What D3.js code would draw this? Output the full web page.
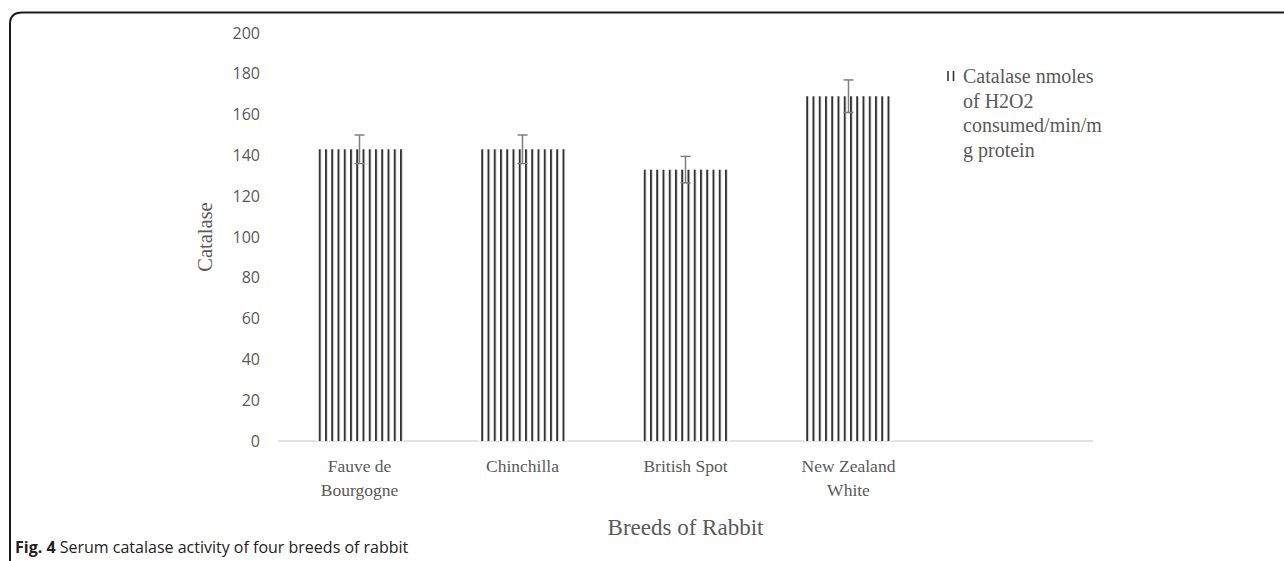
<!DOCTYPE html>
<html><head><meta charset="utf-8">
<script src="https://cdn.jsdelivr.net/npm/d3@7"></script>
<style>html,body{margin:0;padding:0;background:#fff;} svg{display:block;}</style>
</head><body>
<svg id="chart" width="1284" height="561"></svg>
<script>
const categories = [["Fauve de","Bourgogne"],["Chinchilla"],["British Spot"],["New Zealand","White"]];
const values = [143, 143, 133, 169];
const errors = [7, 7, 6.5, 8];
const yTicks = [0,20,40,60,80,100,120,140,160,180,200];
const legendLines = ["Catalase nmoles","of H2O2","consumed/min/m","g protein"];

const svg = d3.select("#chart");
const serif = "'Liberation Serif','Times New Roman',serif";
const sans = "'Open Sans','Noto Sans',sans-serif";
const grey = "#595959";

// frame
svg.append("path")
  .attr("d", "M10,561 L10,24 Q10,12.5 22,12.5 L1284,12.5")
  .attr("fill","none").attr("stroke","#1a1a1a").attr("stroke-width",2);

const plotLeft = 278, plotRight = 1093, yTop = 33, yBottom = 441;
const keys = categories.map(c => c.join(" "));
const x = d3.scaleBand().domain(keys).range([plotLeft, plotLeft + 163*4]).paddingInner(0.46).paddingOuter(0.23);
const y = d3.scaleLinear().domain([0,200]).range([yBottom, yTop]);

// pattern
const defs = svg.append("defs");
const pat = defs.append("pattern").attr("id","vstripes").attr("patternUnits","userSpaceOnUse")
  .attr("width",6.25).attr("height",10);
pat.append("rect").attr("width",6.25).attr("height",10).attr("fill","#fff");
pat.append("rect").attr("x",0).attr("width",2).attr("height",10).attr("fill","#333");

// y axis labels
const yAxis = d3.axisLeft(y).tickValues(yTicks).tickSize(0).tickPadding(0);
const gy = svg.append("g").attr("transform",`translate(260,0)`).call(yAxis);
gy.select(".domain").remove();
gy.selectAll("text").attr("font-family",sans).attr("font-size","16px").attr("fill",grey);

// baseline
svg.append("line").attr("x1",plotLeft).attr("x2",plotRight).attr("y1",y(0)).attr("y2",y(0))
  .attr("stroke","#d9d9d9").attr("stroke-width",1.5);

// bars
svg.append("g").selectAll("rect").data(values).join("rect")
  .attr("x",(d,i)=>x(keys[i]) - 0.5).attr("width",x.bandwidth()+1)
  .attr("y",d=>y(d)).attr("height",d=>y(0)-y(d))
  .attr("fill","url(#vstripes)");

// error bars
const eg = svg.append("g").attr("stroke","#7f7f7f").attr("stroke-width",1.5);
values.forEach((v,i)=>{
  const cx = x(keys[i]) + x.bandwidth()/2;
  eg.append("line").attr("x1",cx).attr("x2",cx).attr("y1",y(v+errors[i])).attr("y2",y(v-errors[i]));
  eg.append("line").attr("x1",cx-5).attr("x2",cx+5).attr("y1",y(v+errors[i])).attr("y2",y(v+errors[i]));
  eg.append("line").attr("x1",cx-5).attr("x2",cx+5).attr("y1",y(v-errors[i])).attr("y2",y(v-errors[i]));
});

// x labels
const xl = svg.append("g");
categories.forEach((lines,i)=>{
  const cx = x(keys[i]) + x.bandwidth()/2;
  const t = xl.append("text").attr("x",cx).attr("y",472).attr("text-anchor","middle")
    .attr("font-family",serif).attr("font-size","17.5px").attr("fill",grey);
  lines.forEach((l,j)=>t.append("tspan").attr("x",cx).attr("dy",j?24:0).text(l));
});

// axis titles
svg.append("text").attr("x",(plotLeft+plotRight)/2).attr("y",535).attr("text-anchor","middle")
  .attr("font-family",serif).attr("font-size","23px").attr("fill",grey).text("Breeds of Rabbit");
svg.append("text").attr("transform",`translate(212,${(yTop+yBottom)/2}) rotate(-90)`)
  .attr("text-anchor","middle").attr("font-family",serif).attr("font-size","20.5px").attr("fill",grey).text("Catalase");

// legend
const lg = svg.append("g").attr("stroke","#333").attr("stroke-width",1.6);
[948, 953.5].forEach(lx => lg.append("line").attr("x1",lx).attr("x2",lx).attr("y1",71).attr("y2",81));
const lt = svg.append("text").attr("x",963).attr("y",83).attr("font-family",serif).attr("font-size","20px").attr("fill",grey);
legendLines.forEach((l,j)=>lt.append("tspan").attr("x",963).attr("dy",j?24.5:0).text(l));

// caption
const cap = svg.append("text").attr("x",15).attr("y",553).attr("font-family",sans).attr("font-size","16px").attr("fill","#222");
cap.append("tspan").attr("font-weight","bold").text("Fig. 4");
cap.append("tspan").text(" Serum catalase activity of four breeds of rabbit");
</script>
</body></html>
